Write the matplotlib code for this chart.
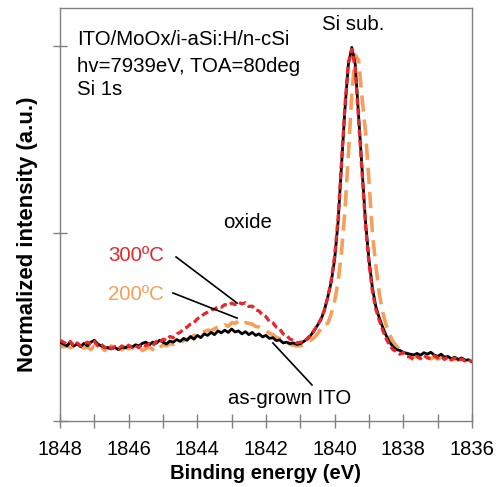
import numpy as np
import matplotlib
matplotlib.use("Agg")
import matplotlib.pyplot as plt

plt.rcParams["font.family"] = ["Liberation Sans", "DejaVu Sans"]

# energie de liaison (eV), pas de 0.1 eV de 1848 a 1836
energy = np.round(np.linspace(1848.0, 1836.0, 121), 1)

as_grown = [
    0.210, 0.205, 0.200, 0.210, 0.200, 0.205, 0.198, 0.207, 0.200, 0.210,
    0.215, 0.205, 0.200, 0.196, 0.195, 0.192, 0.196, 0.190, 0.197, 0.195,
    0.200, 0.197, 0.203, 0.200, 0.207, 0.210, 0.203, 0.210, 0.207, 0.215,
    0.210, 0.205, 0.213, 0.210, 0.217, 0.212, 0.220, 0.215, 0.225, 0.218,
    0.228, 0.222, 0.232, 0.228, 0.236, 0.230, 0.240, 0.235, 0.242, 0.236,
    0.245, 0.237, 0.240, 0.232, 0.238, 0.230, 0.236, 0.228, 0.232, 0.224,
    0.228, 0.220, 0.222, 0.214, 0.216, 0.208, 0.210, 0.206, 0.208, 0.204,
    0.206, 0.212, 0.218, 0.228, 0.240, 0.255, 0.270, 0.295, 0.330, 0.370,
    0.430, 0.530, 0.680, 0.830, 0.950, 0.995, 0.950, 0.810, 0.670, 0.530,
    0.430, 0.355, 0.305, 0.275, 0.250, 0.228, 0.210, 0.198, 0.190, 0.188,
    0.183, 0.180, 0.178, 0.176, 0.180, 0.175, 0.182, 0.178, 0.183, 0.176,
    0.172, 0.178, 0.170, 0.172, 0.166, 0.170, 0.164, 0.168, 0.162, 0.163,
    0.158,
]

t200 = [
    0.200, 0.198, 0.200, 0.195, 0.200, 0.195, 0.200, 0.194, 0.198, 0.190,
    0.200, 0.195, 0.198, 0.188, 0.195, 0.200, 0.192, 0.197, 0.190, 0.196,
    0.192, 0.198, 0.190, 0.196, 0.188, 0.192, 0.198, 0.190, 0.200, 0.195,
    0.203, 0.200, 0.206, 0.204, 0.210, 0.208, 0.215, 0.218, 0.222, 0.228,
    0.232, 0.236, 0.238, 0.242, 0.240, 0.246, 0.250, 0.248, 0.256, 0.252,
    0.262, 0.260, 0.266, 0.258, 0.262, 0.260, 0.258, 0.252, 0.250, 0.244,
    0.240, 0.234, 0.230, 0.222, 0.220, 0.212, 0.210, 0.204, 0.202, 0.200,
    0.200, 0.204, 0.208, 0.215, 0.222, 0.232, 0.245, 0.260, 0.260, 0.285,
    0.320, 0.370, 0.450, 0.560, 0.710, 0.870, 0.975, 0.960, 0.860, 0.770,
    0.640, 0.500, 0.415, 0.340, 0.290, 0.255, 0.230, 0.212, 0.200, 0.190,
    0.186, 0.180, 0.176, 0.172, 0.170, 0.174, 0.168, 0.172, 0.166, 0.170,
    0.165, 0.170, 0.166, 0.168, 0.163, 0.166, 0.162, 0.166, 0.160, 0.163,
    0.158,
]

t300 = [
    0.215, 0.210, 0.205, 0.212, 0.200, 0.208, 0.200, 0.205, 0.210, 0.205,
    0.212, 0.200, 0.205, 0.195, 0.200, 0.193, 0.198, 0.192, 0.200, 0.195,
    0.202, 0.196, 0.200, 0.195, 0.205, 0.200, 0.206, 0.200, 0.212, 0.208,
    0.218, 0.215, 0.225, 0.222, 0.232, 0.236, 0.245, 0.250, 0.258, 0.262,
    0.272, 0.278, 0.285, 0.290, 0.296, 0.298, 0.304, 0.303, 0.310, 0.308,
    0.314, 0.310, 0.316, 0.312, 0.315, 0.305, 0.306, 0.296, 0.293, 0.282,
    0.278, 0.265, 0.262, 0.250, 0.245, 0.232, 0.228, 0.218, 0.215, 0.208,
    0.210, 0.210, 0.220, 0.228, 0.242, 0.255, 0.272, 0.295, 0.330, 0.375,
    0.440, 0.540, 0.690, 0.840, 0.955, 0.990, 0.940, 0.800, 0.660, 0.520,
    0.420, 0.345, 0.298, 0.268, 0.242, 0.220, 0.202, 0.190, 0.185, 0.178,
    0.182, 0.172, 0.170, 0.164, 0.172, 0.166, 0.175, 0.168, 0.166, 0.174,
    0.168, 0.172, 0.164, 0.170, 0.163, 0.168, 0.162, 0.165, 0.160, 0.164,
    0.157,
]

RED = "#e8262b"
ORANGE = "#f5a05a"

fig = plt.figure(figsize=(5.01, 4.87), dpi=100)
ax = fig.add_axes([0.1198, 0.1355, 0.8222, 0.8481])

ax.plot(energy, t200, color=ORANGE, lw=2.6, dashes=(4.5, 2.2), zorder=2)
ax.plot(energy, as_grown, color="black", lw=2.0, zorder=3)
ax.plot(energy, t300, color=RED, lw=2.3, dashes=(2.2, 1.1), zorder=4)

ax.set_xlim(1848, 1836)
ax.set_ylim(0, 1.1)
ax.set_xticks(np.arange(1848, 1835, -2))
ax.set_xticks(np.arange(1847, 1836, -2), minor=True)
ax.set_yticks([0, 0.5, 1.0])
ax.set_yticklabels([])
ax.tick_params(axis="both", which="both", direction="inout", color="#808080",
               width=1, length=10)
ax.tick_params(axis="x", labelsize=14.5, pad=9)
for s in ax.spines.values():
    s.set_color("#808080")
    s.set_linewidth(1)

ax.set_xlabel("Binding energy (eV)", fontsize=14.6, fontweight="bold", labelpad=3)
fig.text(0.054, 0.518, "Normalized intensity (a.u.)", rotation=90, fontsize=15.9,
         fontweight="bold", ha="center", va="center")

txt = dict(fontsize=14.7, va="center")
ax.text(1847.50, 1.015, "ITO/MoOx/i-aSi:H/n-cSi", **txt)
ax.text(1847.50, 0.945, "hv=7939eV, TOA=80deg", **txt)
ax.text(1847.50, 0.884, "Si 1s", **txt)
ax.text(1839.47, 1.055, "Si sub.", ha="center", **txt)
ax.text(1842.55, 0.53, "oxide", ha="center", **txt)
ax.text(1845.79, 0.442, "300ºC", ha="center", color=RED, **txt)
ax.text(1845.79, 0.336, "200ºC", ha="center", color=ORANGE, **txt)
ax.text(1841.30, 0.061, "as-grown ITO", ha="center", **txt)

ax.plot([1844.62, 1842.84], [0.437, 0.314], color="black", lw=1.2, zorder=5)
ax.plot([1844.71, 1842.84], [0.341, 0.274], color="black", lw=1.2, zorder=5)
ax.plot([1841.80, 1840.66], [0.208, 0.096], color="black", lw=1.2, zorder=5)

fig.savefig("out.png", dpi=100)
